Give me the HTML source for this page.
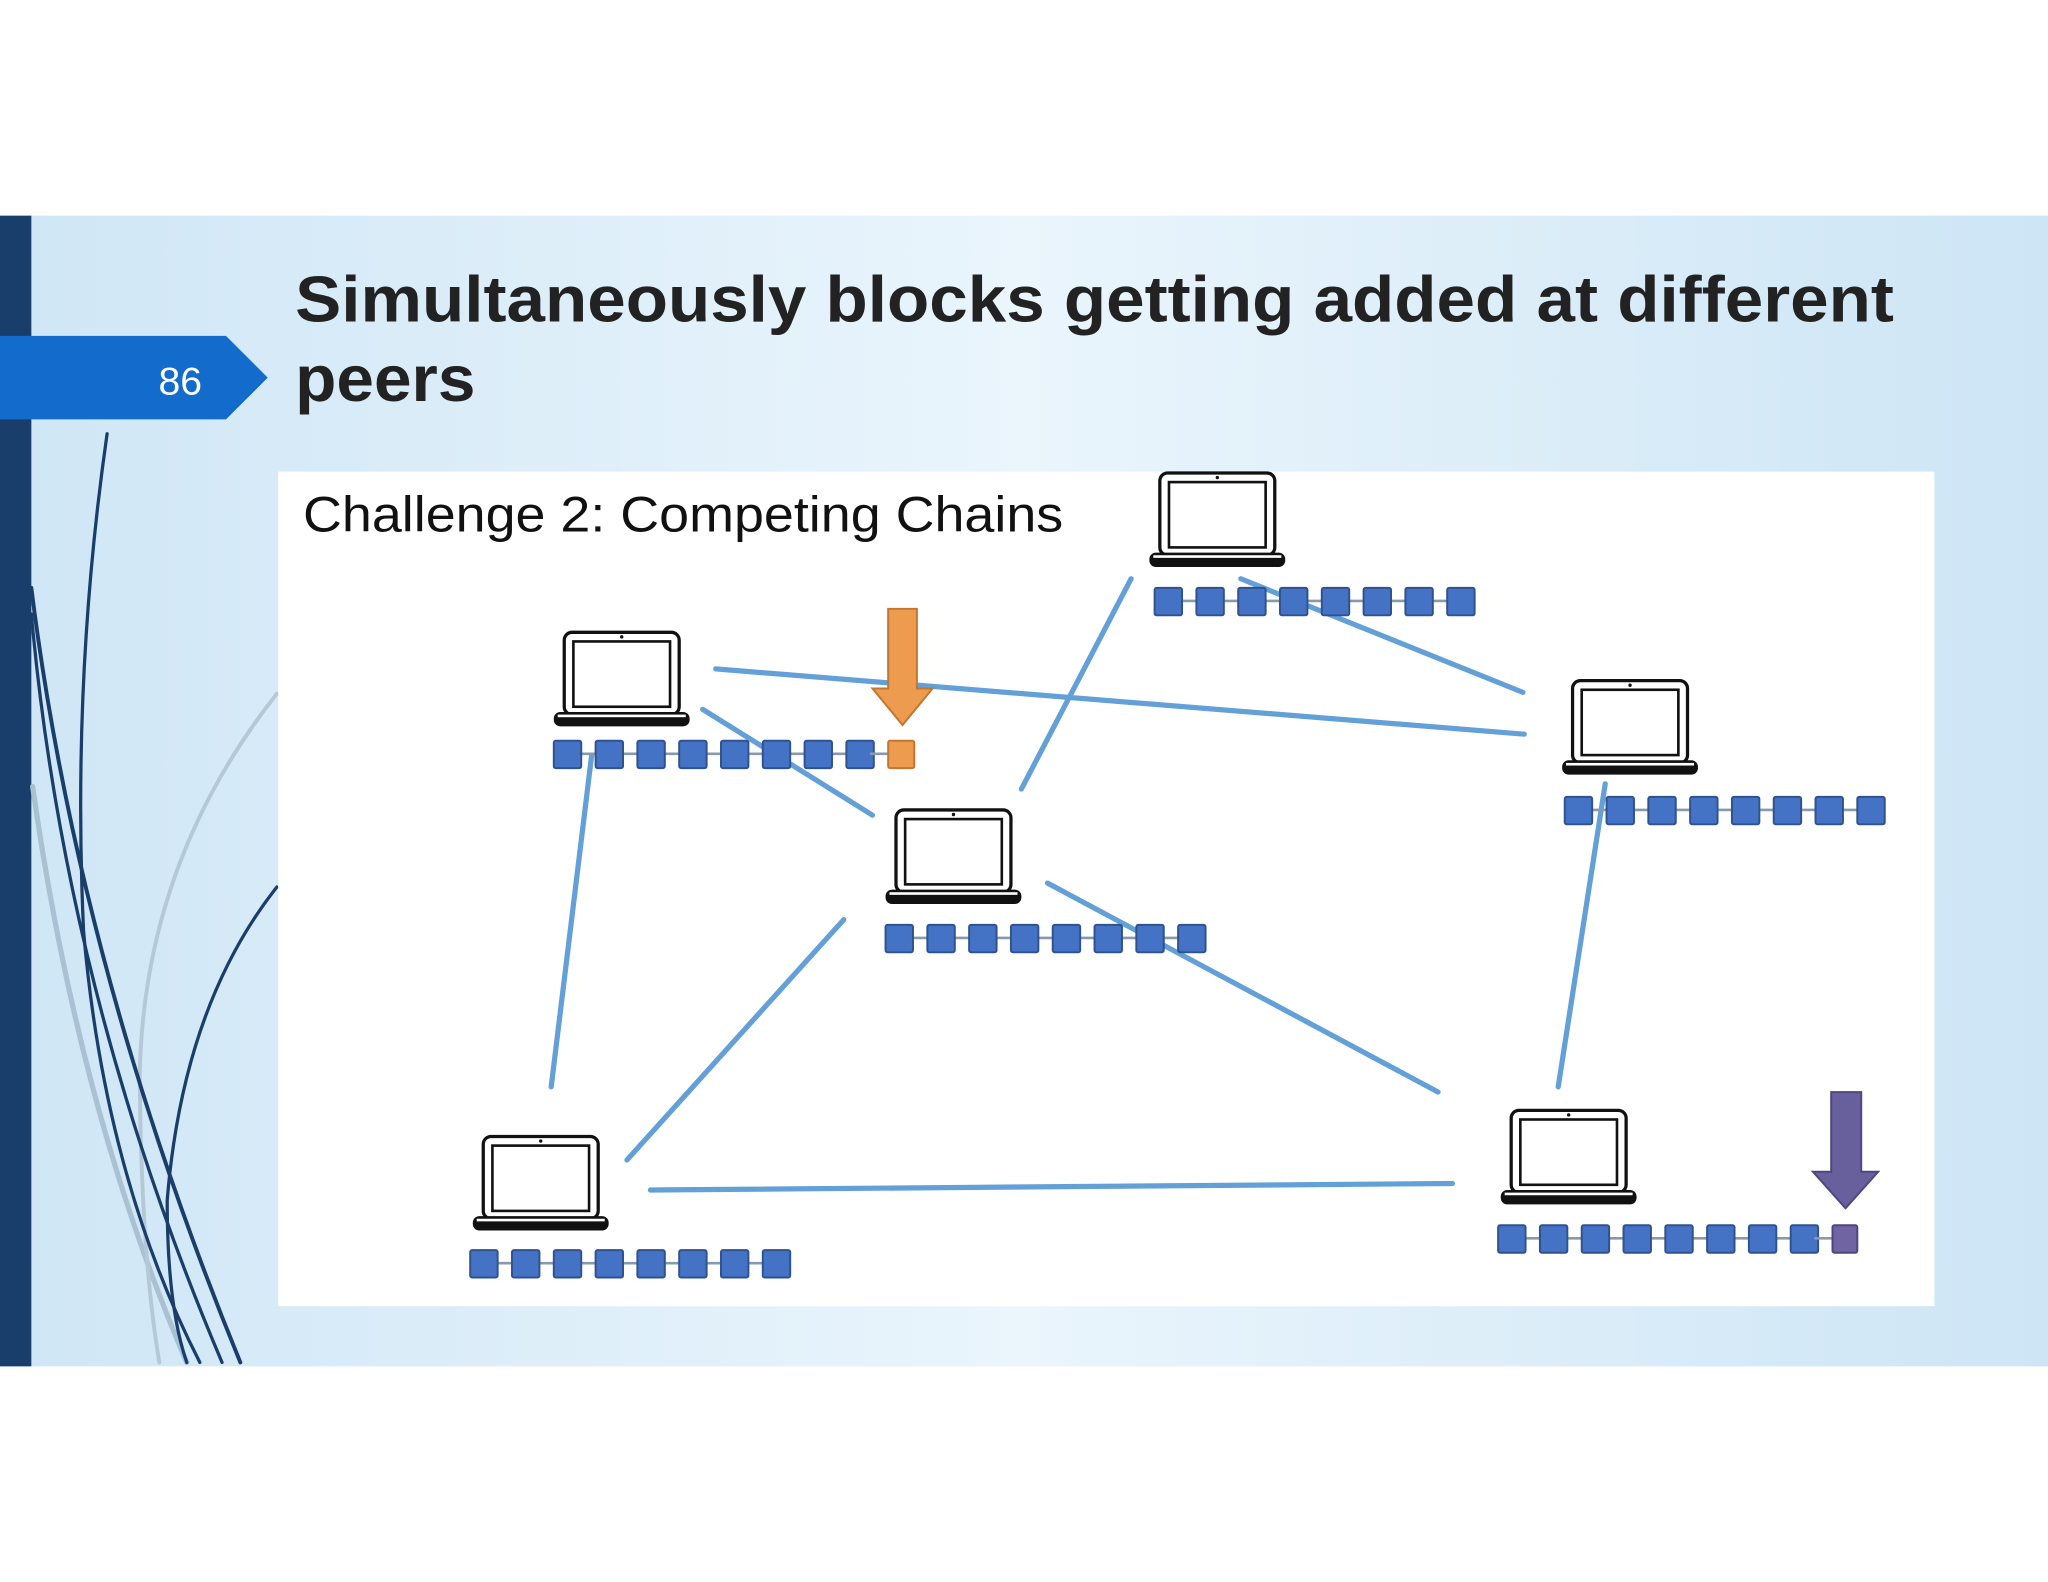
<!DOCTYPE html>
<html><head><meta charset="utf-8"><style>
html,body{margin:0;padding:0;background:#fff;}
svg{display:block;}
</style></head><body>
<svg width="2048" height="1582" viewBox="0 0 1568 1211" xmlns="http://www.w3.org/2000/svg">
<defs>
<linearGradient id="bg" x1="0" y1="0" x2="1" y2="0">
<stop offset="0" stop-color="#cfe6f6"/><stop offset="0.5" stop-color="#eaf5fc"/><stop offset="1" stop-color="#cde5f5"/>
</linearGradient>
<g id="lap">
<rect x="0" y="0" width="88" height="63" rx="6" fill="#fff" stroke="#111" stroke-width="2.5"/>
<rect x="7" y="7" width="74" height="50" fill="#fff" stroke="#111" stroke-width="2"/>
<circle cx="44" cy="3.5" r="1.3" fill="#111"/>
<rect x="-8" y="61" width="104" height="11" rx="5" fill="#111"/>
<rect x="-5" y="63" width="98" height="2" fill="#fff"/>
</g>
<g id="blk"><rect x="0" y="0" width="21" height="21" rx="1.5" fill="#4472c4" stroke="#2f528f" stroke-width="1.5"/></g>
<g id="ch8">
<line x1="0" y1="10" x2="242" y2="10" stroke="#8899aa" stroke-width="2"/>
<use href="#blk" x="0"/><use href="#blk" x="32"/><use href="#blk" x="64"/><use href="#blk" x="96"/>
<use href="#blk" x="128"/><use href="#blk" x="160"/><use href="#blk" x="192"/><use href="#blk" x="224"/>
</g>
</defs>
<rect x="0" y="165" width="1568" height="881" fill="url(#bg)"/>
<rect x="0" y="165" width="24" height="881" fill="#1a3e6b"/>
<g fill="none" stroke-linecap="round">
<path d="M25 602 Q60 850 143 1043" stroke="#a9c1d3" stroke-width="4"/>
<path d="M212 531 Q110 660 107 823 Q108 960 122 1043" stroke="#b5c8d6" stroke-width="3"/>
<path d="M82 332 Q55 520 64 713 Q80 900 153 1043" stroke="#1a3e6b" stroke-width="2.5"/>
<path d="M24 450 Q60 740 184 1043" stroke="#1a3e6b" stroke-width="3"/>
<path d="M24 470 Q50 760 170 1043" stroke="#1a3e6b" stroke-width="2.5"/>
<path d="M212 679 Q140 770 128 919 Q128 1000 143 1043" stroke="#1a3e6b" stroke-width="2.5"/>
</g>
<polygon points="0,257 173,257 205,289 173,321 0,321" fill="#136ccb"/>
<text x="138" y="302" font-family="Liberation Sans, sans-serif" font-size="30" fill="#fff" text-anchor="middle">86</text>
<text x="226" y="246" font-family="Liberation Sans, sans-serif" font-weight="bold" font-size="50" fill="#222" textLength="1224" lengthAdjust="spacingAndGlyphs">Simultaneously blocks getting added at different</text>
<text x="226" y="307" font-family="Liberation Sans, sans-serif" font-weight="bold" font-size="50" fill="#222" textLength="138" lengthAdjust="spacingAndGlyphs">peers</text>
<rect x="213" y="361" width="1268" height="639" fill="#fff"/>
<text x="232" y="407" font-family="Liberation Sans, sans-serif" font-size="38" fill="#111" textLength="582" lengthAdjust="spacingAndGlyphs">Challenge 2: Competing Chains</text>
<g stroke="#5b9bd5" stroke-width="4" stroke-linecap="round" opacity="0.95">
<line x1="548" y1="512" x2="1167" y2="562"/>
<line x1="538" y1="543" x2="668" y2="624"/>
<line x1="950" y1="443" x2="1166" y2="530"/>
<line x1="866" y1="443" x2="782" y2="604"/>
<line x1="453" y1="578" x2="422" y2="832"/>
<line x1="646" y1="704" x2="480" y2="888"/>
<line x1="802" y1="676" x2="1101" y2="836"/>
<line x1="1229" y1="600" x2="1193" y2="832"/>
<line x1="498" y1="911" x2="1112" y2="906"/>
</g>
<use href="#lap" x="432" y="484"/>
<use href="#lap" x="888" y="362"/>
<use href="#lap" x="686" y="620"/>
<use href="#lap" x="1204" y="521"/>
<use href="#lap" x="370" y="870"/>
<use href="#lap" x="1157" y="850"/>
<use href="#ch8" x="424" y="567"/>
<line x1="666" y1="577" x2="680" y2="577" stroke="#8899aa" stroke-width="2"/>
<rect x="680" y="567" width="20" height="21" rx="1.5" fill="#ed9b4f" stroke="#c2762f" stroke-width="1.5"/>
<use href="#ch8" x="884" y="450"/>
<use href="#ch8" x="678" y="708"/>
<use href="#ch8" x="1198" y="610"/>
<use href="#ch8" x="360" y="957"/>
<use href="#ch8" x="1147" y="938"/>
<line x1="1389" y1="948" x2="1403" y2="948" stroke="#8899aa" stroke-width="2"/>
<rect x="1403" y="938" width="19" height="21" rx="1.5" fill="#7064a3" stroke="#4f4580" stroke-width="1.5"/>
<polygon points="680,466 702,466 702,527 714,527 691,555 668,527 680,527" fill="#ed9b4f" stroke="#c2762f" stroke-width="1.5"/>
<polygon points="1402,836 1425,836 1425,897 1438,897 1413,925 1388,897 1402,897" fill="#68609c" stroke="#4f4580" stroke-width="1.5"/>
</svg>
</body></html>
